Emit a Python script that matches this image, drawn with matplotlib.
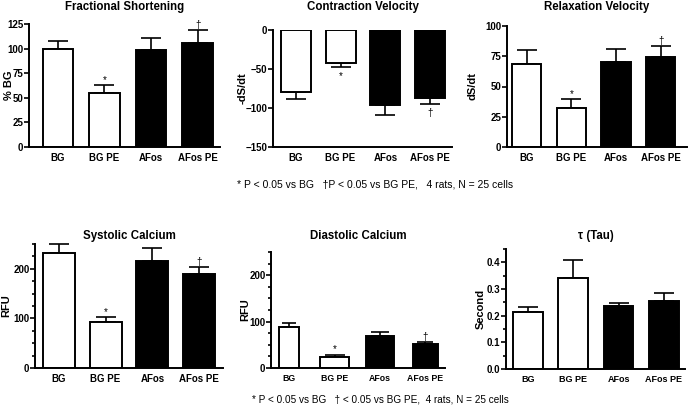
import numpy as np
import matplotlib
matplotlib.use("Agg")
import matplotlib.pyplot as plt

plt.rcParams["font.family"] = ["Liberation Sans", "DejaVu Sans"]

W, H = 688, 408

groups = ["BG", "BG PE", "AFos", "AFos PE"]
colors = ["white", "white", "black", "black"]

# values (mean, error size)
fs_mean = [100, 55, 99, 106]
fs_err = [8, 8, 12, 13]
cv_mean = [-80, -42, -96, -87]
cv_err = [9, 6, 13, 8]
rv_mean = [69, 32.5, 70, 74]
rv_err = [11, 7.5, 11, 9.5]
sc_mean = [232, 92.5, 216, 189]
sc_err = [19, 10.5, 25, 15]
dc_mean = [88.5, 23, 70, 51]
dc_err = [9.5, 6, 7, 4.5]
tau_mean = [0.2125, 0.341, 0.2375, 0.256]
tau_err = [0.0215, 0.0665, 0.01, 0.028]

fs_sig = ["", "*", "", "†"]
cv_sig = ["", "*", "", "†"]
rv_sig = ["", "*", "", "†"]
sc_sig = ["", "*", "", "†"]
dc_sig = ["", "*", "", "†"]
tau_sig = ["", "", "", ""]

fig = plt.figure(figsize=(W / 100, H / 100), dpi=100)


def add_ax(left, top, right, bottom):
    return fig.add_axes([left / W, 1 - bottom / H, (right - left) / W, (bottom - top) / H])


def panel(box, means, errs, sig, title, ylabel, ylabel_x, ylim, major, minor, xlim,
          width=0.66, title_y=7, tick_fs=7, fmt=None):
    ax = add_ax(*box)
    x = np.arange(len(means))
    ax.bar(x, means, width=width, color=colors, edgecolor="black", linewidth=1.4, zorder=2)
    lo = [e if m < 0 else 0 for m, e in zip(means, errs)]
    hi = [0 if m < 0 else e for m, e in zip(means, errs)]
    w = np.atleast_1d(width) * np.ones(len(means))
    for i in range(len(means)):
        ax.errorbar(x[i], means[i], yerr=[[lo[i]], [hi[i]]], fmt="none", ecolor="black",
                    elinewidth=1.2, capsize=w[i] * 11, capthick=1.2, zorder=1, clip_on=False)
    span = ylim[1] - ylim[0]
    for i, s in enumerate(sig):
        if not s:
            continue
        if means[i] < 0:
            y = means[i] - errs[i] - span * 0.03
            va = "top"
        else:
            y = means[i] + errs[i]
            va = "bottom"
        ax.text(x[i], y, s, ha="center", va=va, fontsize=7)
    ax.set_ylim(*ylim)
    ax.set_xlim(*xlim)
    ax.set_yticks(major)
    if minor is not None:
        ax.set_yticks(minor, minor=True)
    if fmt is not None:
        ax.set_yticklabels([fmt % v for v in major])
    ax.set_xticks(x)
    ax.set_xticklabels(groups, fontsize=tick_fs, fontweight="bold")
    for lab in ax.get_yticklabels():
        lab.set_fontsize(7)
        lab.set_fontweight("bold")
    ax.spines["top"].set_visible(False)
    ax.spines["right"].set_visible(False)
    ax.spines["left"].set_linewidth(1.4)
    ax.spines["bottom"].set_linewidth(1.4)
    ax.tick_params(axis="y", which="major", length=3.5, width=1.2, pad=0.5)
    ax.tick_params(axis="y", which="minor", length=2, width=1.2)
    ax.tick_params(axis="x", length=0, pad=4)
    cy = (box[1] + box[3]) / 2
    fig.text(ylabel_x / W, 1 - cy / H, ylabel, rotation=90, ha="center", va="center",
             fontsize=8, fontweight="bold")
    cx = (box[0] + box[2]) / 2
    fig.text(cx / W, 1 - title_y / H, title, ha="center", va="center", fontsize=8.3, fontweight="bold")
    return ax


panel((29, 24, 220, 147), fs_mean, fs_err, fs_sig, "Fractional Shortening", "% BG", 9,
      (0, 125), [0, 25, 50, 75, 100, 125], None, (-0.62, 3.48))

panel((273, 30, 452, 147), cv_mean, cv_err, cv_sig, "Contraction Velocity", "-dS/dt", 243,
      (-150, 0), [0, -50, -100, -150], None, (-0.51, 3.49), width=0.67)

panel((507, 26, 687, 147), rv_mean, rv_err, rv_sig, "Relaxation Velocity", "dS/dt", 473,
      (0, 100), [0, 25, 50, 75, 100], None, (-0.44, 3.59))

panel((35, 244, 223, 368), sc_mean, sc_err, sc_sig, "Systolic Calcium", "RFU", 6,
      (0, 250), [0, 100, 200], np.arange(0, 251, 25), (-0.51, 3.51), width=0.68, title_y=236)

panel((271, 252, 445, 368), dc_mean, dc_err, dc_sig, "Diastolic Calcium", "RFU", 245,
      (0, 250), [0, 100, 200], np.arange(0, 251, 25), (-0.4, 3.43),
      width=[0.45, 0.64, 0.62, 0.55], title_y=236, tick_fs=6.3)

panel((506, 249, 685, 369), tau_mean, tau_err, tau_sig, "τ (Tau)", "Second", 481,
      (0, 0.45), [0, 0.1, 0.2, 0.3, 0.4], np.arange(0, 0.451, 0.05), (-0.49, 3.47),
      title_y=236, tick_fs=6.5, fmt="%.1f")

fig.text(237 / W, 1 - 185 / H, "* P < 0.05 vs BG   †P < 0.05 vs BG PE,   4 rats, N = 25 cells",
         ha="left", va="center", fontsize=7.5)
fig.text(252 / W, 1 - 399 / H, "* P < 0.05 vs BG   † < 0.05 vs BG PE,  4 rats, N = 25 cells",
         ha="left", va="center", fontsize=7.2)

fig.savefig("out.png", dpi=100)
